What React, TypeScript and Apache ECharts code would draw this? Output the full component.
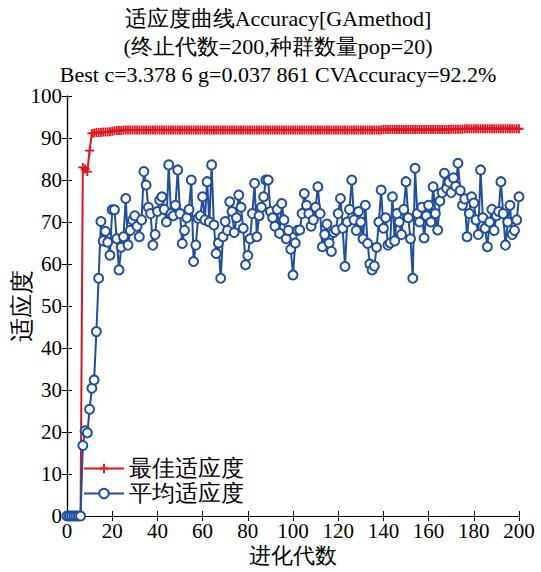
import React, { useEffect, useRef } from "react";
import * as echarts from "echarts";

const titleLines = [
  "适应度曲线Accuracy[GAmethod]",
  "(终止代数=200,种群数量pop=20)",
  "Best c=3.378 6 g=0.037 861 CVAccuracy=92.2%",
];
const xName = "进化代数";
const yName = "适应度";
const seriesNames = ["最佳适应度", "平均适应度"];

const bestFitness: number[] = [
  0, 0, 0, 0, 0, 0, 0, 83, 82.6, 82, 87, 91.1, 91.2, 91.3, 91.3, 91.3, 91.4, 91.4, 91.4, 91.5,
  91.6, 91.7, 91.8, 91.8, 91.8, 91.9, 91.9, 91.9, 91.9, 91.9, 91.9, 91.9, 91.9, 91.9, 91.9, 91.9, 91.9, 91.9, 91.9, 91.9,
  91.9, 91.9, 91.9, 91.9, 91.9, 91.9, 91.9, 91.9, 91.9, 91.9, 91.9, 91.9, 91.9, 91.9, 91.9, 91.9, 91.9, 91.9, 91.9, 91.9,
  91.9, 91.9, 91.9, 91.9, 91.9, 91.9, 91.9, 91.9, 91.9, 91.9, 91.9, 91.9, 91.9, 91.9, 91.9, 91.9, 91.9, 91.9, 91.9, 91.9,
  91.9, 91.9, 91.9, 91.9, 91.9, 91.9, 91.9, 91.9, 91.9, 91.9, 91.9, 91.9, 91.9, 91.9, 91.9, 91.9, 91.9, 91.9, 91.9, 91.9,
  91.9, 91.9, 91.9, 91.9, 91.9, 91.9, 91.9, 91.9, 91.9, 91.9, 91.9, 91.9, 91.9, 91.9, 91.9, 91.9, 91.9, 91.9, 91.9, 91.9,
  91.9, 91.9, 91.9, 91.9, 91.9, 91.9, 91.9, 91.9, 91.9, 91.9, 91.9, 91.9, 91.9, 91.9, 91.9, 91.9, 91.9, 91.9, 91.9, 91.9,
  92.0, 92.0, 92.0, 92.0, 92.0, 92.0, 92.0, 92.0, 92.0, 92.0, 92.0, 92.0, 92.0, 92.0, 92.0, 92.0, 92.0, 92.0, 92.0, 92.0,
  92.0, 92.0, 92.0, 92.0, 92.0, 92.0, 92.0, 92.0, 92.0, 92.0, 92.1, 92.1, 92.1, 92.1, 92.1, 92.1, 92.2, 92.2, 92.2, 92.2,
  92.2, 92.2, 92.2, 92.2, 92.2, 92.2, 92.2, 92.2, 92.2, 92.2, 92.2, 92.2, 92.2, 92.2, 92.2, 92.2, 92.2, 92.2, 92.2, 92.2,
  92.2,
];

const meanFitness: number[] = [
  0, 0, 0, 0, 0, 0, 0, 16.8, 20.3, 19.8, 25.4, 30.4, 32.4, 43.9, 56.6, 70.1, 65.5, 67.8, 65.2, 62.1,
  72.9, 72.9, 66.0, 58.6, 64.0, 66.5, 75.6, 64.5, 68.0, 70.5, 71.5, 69.0, 66.5, 70.5, 82.0, 78.8, 73.5, 72.0, 64.5, 67.0,
  72.5, 75.2, 76.0, 73.0, 70.0, 83.6, 72.0, 71.5, 74.0, 82.4, 72.0, 64.9, 68.0, 71.0, 73.0, 80.0, 60.6, 64.5, 70.9, 71.5,
  76.0, 70.5, 79.6, 70.0, 83.6, 69.3, 62.5, 65.0, 56.6, 66.5, 70.1, 68.0, 74.8, 72.5, 67.5, 71.0, 76.4, 73.5, 68.5, 59.8,
  62.0, 66.0, 72.0, 79.2, 66.5, 71.5, 73.5, 76.0, 80.0, 80.0, 72.5, 71.0, 69.0, 73.0, 67.3, 74.4, 70.5, 66.0, 68.0, 63.5,
  57.4, 65.0, 68.0, 68.1, 72.0, 76.8, 74.0, 72.0, 69.0, 70.5, 73.5, 78.4, 72.0, 64.1, 67.0, 69.5, 65.0, 63.0, 67.5, 68.1,
  72.0, 75.6, 68.5, 59.4, 70.0, 73.0, 80.0, 70.5, 68.0, 72.5, 70.0, 66.0, 74.0, 64.9, 60.0, 58.6, 59.5, 64.0, 70.0, 77.6,
  68.5, 71.0, 64.5, 65.0, 76.0, 65.5, 72.0, 70.0, 67.0, 73.0, 79.6, 71.0, 66.0, 56.6, 82.8, 72.0, 70.0, 73.5, 66.2, 71.5,
  74.0, 70.0, 78.4, 72.0, 68.1, 75.0, 77.0, 81.6, 78.0, 79.5, 77.0, 80.5, 78.5, 84.0, 77.5, 74.0, 75.5, 66.5, 72.0, 76.0,
  74.5, 70.5, 67.0, 82.4, 71.0, 68.5, 64.1, 70.0, 73.0, 68.0, 71.5, 72.5, 79.6, 72.0, 64.5, 70.0, 74.0, 67.0, 68.0, 70.5,
  76.0,
];

const generations: number[] = meanFitness.map((_, i) => i);

const FONT = "Liberation Serif";
const RED = "#e0141c";
const BLUE = "#1f4f9e";
const PLUS = "path://M4,0H6V4H10V6H6V10H4V6H0V4H4Z";

export default function App() {
  const ref = useRef<HTMLDivElement>(null);
  useEffect(() => {
    if (!ref.current) return;
    const chart = echarts.init(ref.current, null, { renderer: "svg" });
    const axisCommon = {
      type: "value" as const,
      axisLine: { show: true, lineStyle: { color: "#000", width: 1.2 } },
      axisTick: { show: true, inside: true, length: 5, lineStyle: { color: "#000" } },
      splitLine: { show: false },
    };
    chart.setOption({
      animation: false,
      backgroundColor: "#fff",
      title: {
        text: titleLines.join("\n"),
        left: 273,
        textAlign: "center",
        top: -1,
        textStyle: { fontFamily: FONT, fontSize: 22, fontWeight: "normal", color: "#000", lineHeight: 28 },
      },
      grid: { left: 67, right: 22, top: 96, bottom: 56, outerBoundsMode: "none", containLabel: false },
      legend: {
        orient: "vertical",
        left: 78,
        top: 452,
        itemWidth: 40,
        itemHeight: 12,
        itemGap: 2,
        textStyle: { fontFamily: FONT, fontSize: 23, color: "#000" },
        data: seriesNames,
      },
      xAxis: [
        {
          ...axisCommon,
          min: 0,
          max: 200,
          interval: 20,
          name: xName,
          nameLocation: "middle",
          nameGap: 28,
          nameMoveOverlap: false,
          nameTextStyle: { fontFamily: FONT, fontSize: 22, color: "#000" },
          axisLabel: { fontFamily: FONT, fontSize: 21, color: "#000", margin: 4 },
        },
        {
          ...axisCommon,
          position: "top",
          min: 0,
          max: 200,
          interval: 20,
          axisLabel: { show: false },
        },
      ],
      yAxis: [
        {
          ...axisCommon,
          min: 0,
          max: 100,
          interval: 10,
          name: yName,
          nameLocation: "middle",
          nameGap: 33,
          nameMoveOverlap: false,
          nameTextStyle: { fontFamily: FONT, fontSize: 24, color: "#000" },
          axisLabel: { fontFamily: FONT, fontSize: 21, color: "#000", margin: 5 },
        },
        {
          ...axisCommon,
          position: "right",
          min: 0,
          max: 100,
          interval: 10,
          axisLabel: { show: false },
        },
      ],
      series: [
        {
          name: seriesNames[0],
          type: "line",
          data: generations.map((g, i) => [g, bestFitness[i]]),
          symbol: PLUS,
          symbolSize: 9,
          showAllSymbol: true,
          itemStyle: { color: RED },
          lineStyle: { color: RED, width: 2 },
          xAxisIndex: 0,
          yAxisIndex: 0,
        },
        {
          name: seriesNames[1],
          type: "line",
          data: generations.map((g, i) => [g, meanFitness[i]]),
          symbol: "emptyCircle",
          symbolSize: 9,
          showAllSymbol: true,
          itemStyle: { color: BLUE, borderWidth: 2, borderColor: BLUE },
          lineStyle: { color: BLUE, width: 2 },
          xAxisIndex: 0,
          yAxisIndex: 0,
        },
      ],
    });
    return () => chart.dispose();
  }, []);
  return (
    <div
      ref={ref}
      style={{ position: "absolute", left: 0, top: 0, width: 541, height: 572 }}
    />
  );
}
